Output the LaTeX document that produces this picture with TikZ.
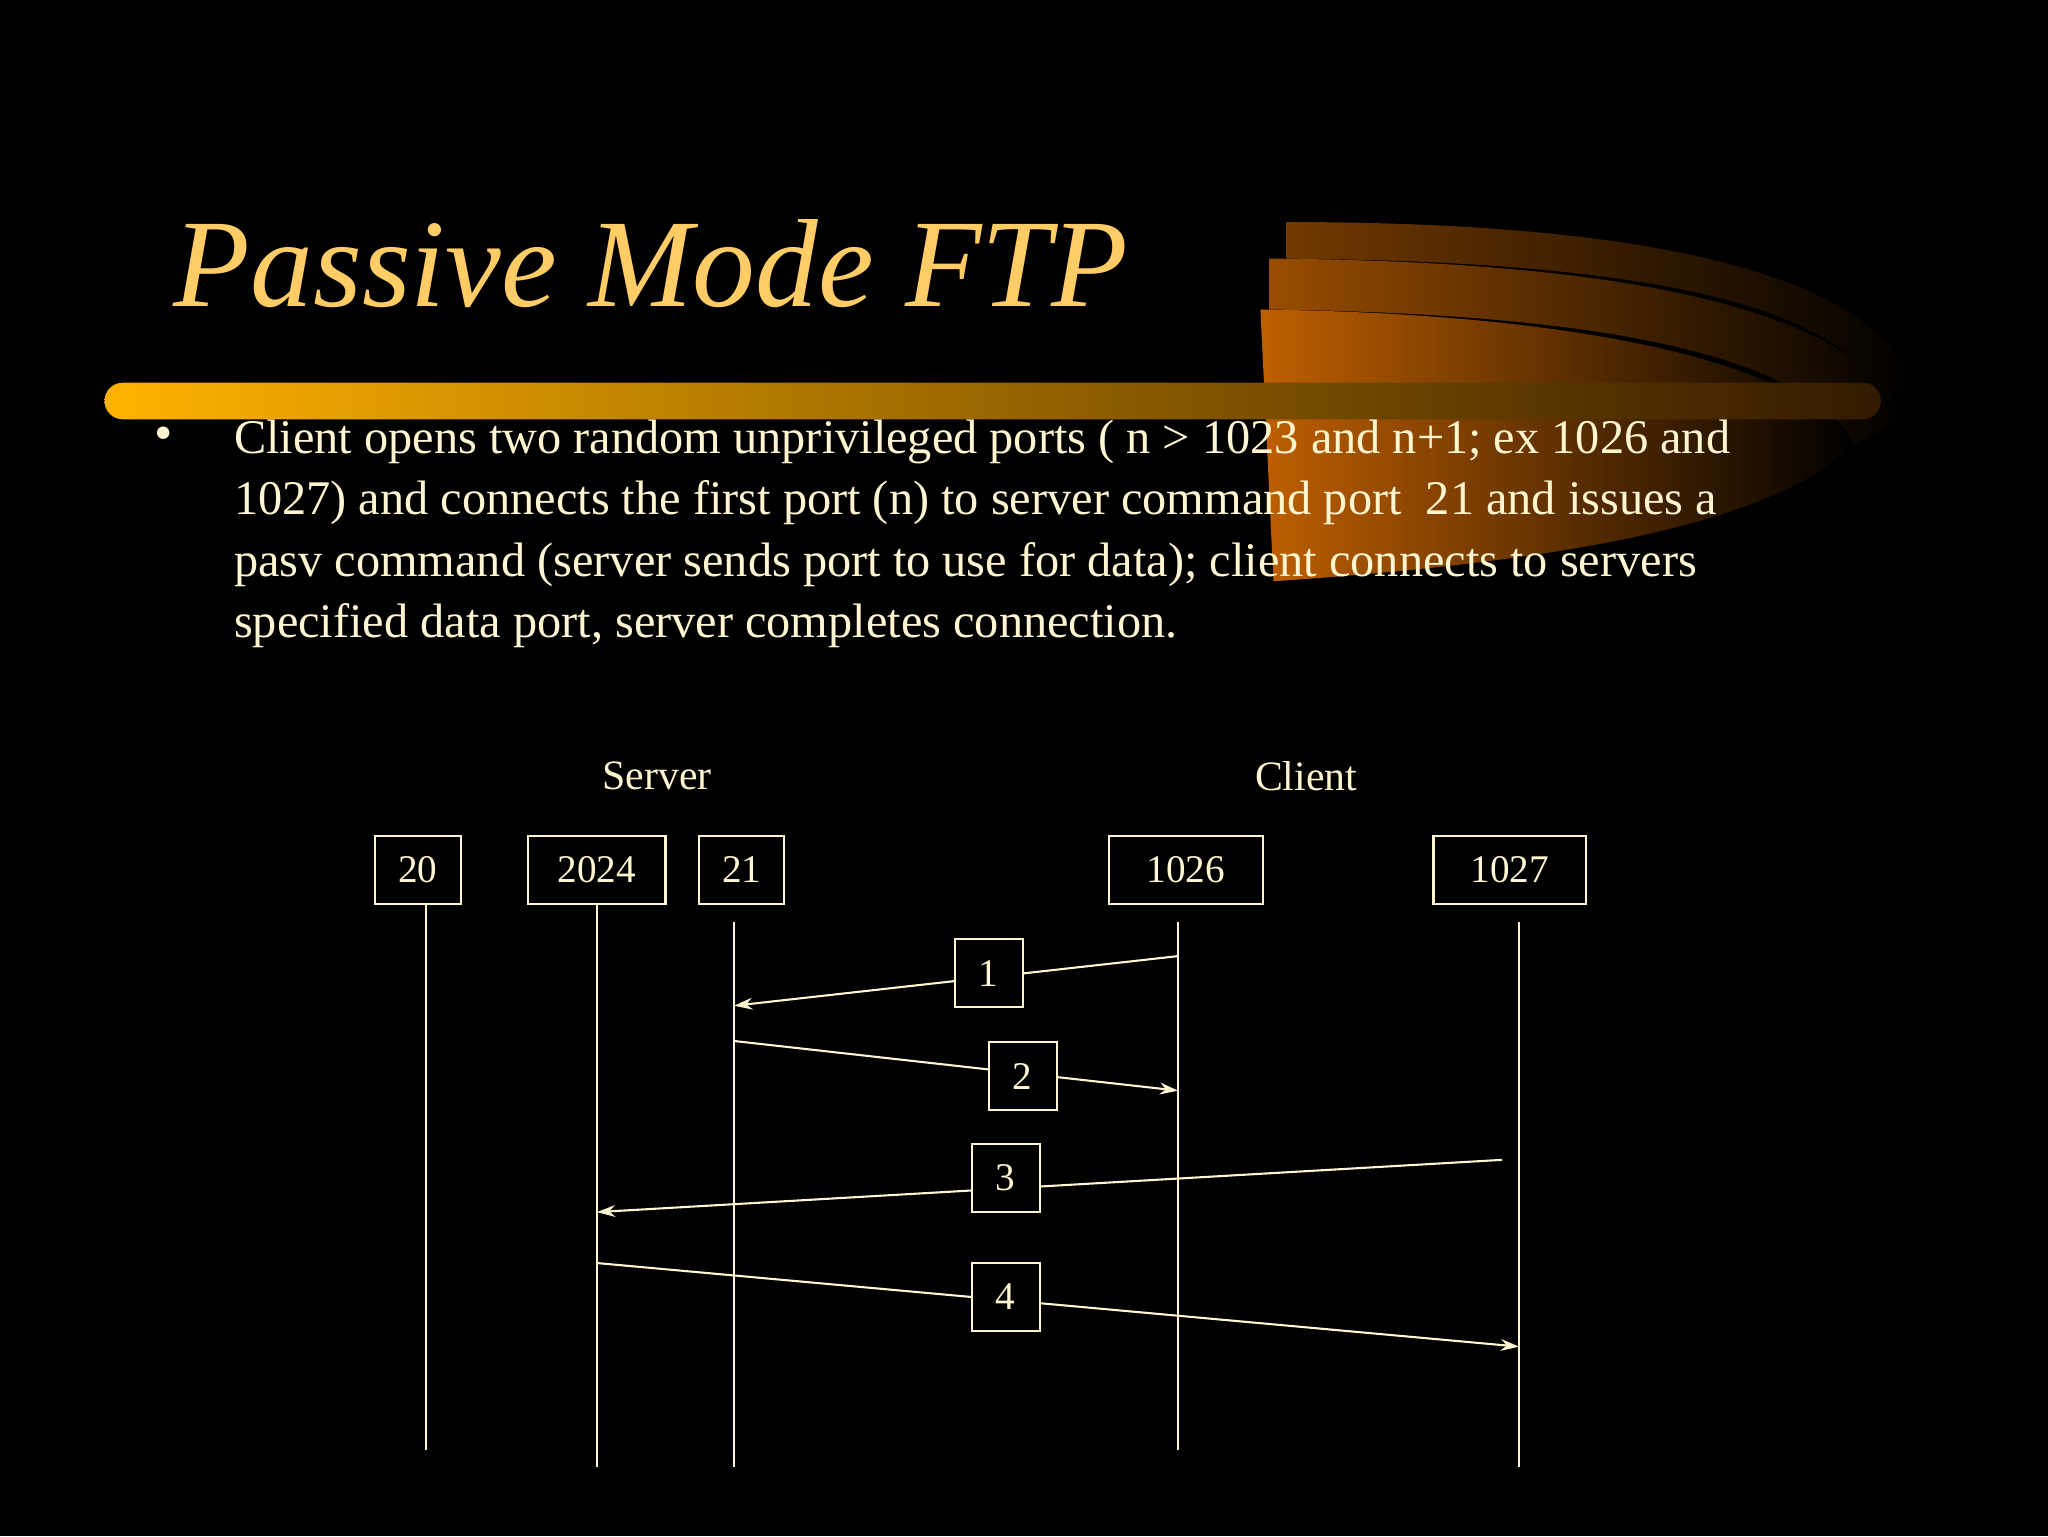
\documentclass[tikz,border=0pt]{standalone}
\usepackage{fontspec}
\setmainfont{Liberation Serif}
\usetikzlibrary{arrows.meta}
\definecolor{cream}{HTML}{FFF5D0}
\definecolor{ttl}{HTML}{FFCC66}
\tikzset{
  port/.style={draw=cream,line width=1.6pt,fill=black,text=cream,minimum height=52pt,font=\fontsize{30}{30}\selectfont,inner xsep=6pt},
  num/.style={draw=cream,line width=1.6pt,fill=black,text=cream,minimum width=52pt,minimum height=52pt,font=\fontsize{30}{30}\selectfont},
  life/.style={cream,line width=1.6pt},
  msg/.style={cream,line width=1.6pt,-{Stealth[length=14pt,width=9pt]}},
  lbl/.style={text=cream,font=\fontsize{32}{32}\selectfont}
}
\begin{document}
\begin{tikzpicture}[x=1pt,y=-1pt]
\fill[black] (0,0) rectangle (1568,1176);
\useasboundingbox (0,0) rectangle (1568,1176);
% swoosh
\shade[left color=orange!45!black,right color=black] (985,170) .. controls (1300,170) and (1440,220) .. (1470,300) -- (1440,300) .. controls (1400,230) and (1250,200) .. (985,198) -- cycle;
\shade[left color=orange!60!black,right color=black] (972,198) .. controls (1260,200) and (1420,240) .. (1460,320) -- (1420,340) .. controls (1380,270) and (1220,240) .. (972,237) -- cycle;
\shade[left color=orange!75!black,right color=black] (965,237) .. controls (1220,240) and (1380,280) .. (1420,340) .. controls (1360,400) and (1200,430) .. (975,445) -- cycle;
% bar
\shade[left color=orange!60!yellow,right color=black!80!orange,rounded corners=14pt] (80,293) rectangle (1440,321);
% title
\node[anchor=base west,text=ttl,font=\itshape\fontsize{96}{96}\selectfont,inner sep=0] (title) at (133,235) {Passive Mode FTP};
% bullet
\node[anchor=base west,text=cream,font=\fontsize{40}{40}\selectfont,inner sep=0] (bul) at (118,345) {•};
\node[anchor=base west,text=cream,font=\fontsize{37}{47}\selectfont,inner sep=0,align=left] (body) at (179,488) {Client opens two random unprivileged ports ( n > 1023 and n+1; ex 1026 and\\1027) and connects the first port (n) to server command port~ 21 and issues a\\pasv command (server sends port to use for data); client connects to servers\\specified data port, server completes connection.};
% headers
\node[lbl] (srv) at (503,594) {Server};
\node[lbl] (cli) at (1000,594) {Client};
% ports
\node[port,minimum width=66pt] (p20) at (320,666) {20};
\node[port,minimum width=105pt] (p2024) at (457,666) {2024};
\node[port,minimum width=65pt] (p21) at (568,666) {21};
\node[port,minimum width=118pt] (p1026) at (908,666) {1026};
\node[port,minimum width=117pt] (p1027) at (1156,666) {1027};
% lifelines
\coordinate (a20) at (326,693); \coordinate (b20) at (326,1110);
\coordinate (a24) at (457,693); \coordinate (b24) at (457,1123);
\coordinate (a21) at (562,706); \coordinate (b21) at (562,1123);
\coordinate (a26) at (902,706); \coordinate (b26) at (902,1110);
\coordinate (a27) at (1163,706); \coordinate (b27) at (1163,1123);
\draw[life] (a20) -- (b20);
\draw[life] (a24) -- (b24);
\draw[life] (a21) -- (b21);
\draw[life] (a26) -- (b26);
\draw[life] (a27) -- (b27);
% messages
\coordinate (m1s) at (902,732); \coordinate (m1e) at (562,770);
\coordinate (m2s) at (562,797); \coordinate (m2e) at (902,835);
\coordinate (m3s) at (1150,888); \coordinate (m3e) at (457,928);
\coordinate (m4s) at (457,967); \coordinate (m4e) at (1163,1031);
\draw[msg] (m1s) -- (m1e);
\draw[msg] (m2s) -- (m2e);
\draw[msg] (m3s) -- (m3e);
\draw[msg] (m4s) -- (m4e);
\node[num] (n1) at (757,745) {1};
\node[num] (n2) at (783,824) {2};
\node[num] (n3) at (770,902) {3};
\node[num] (n4) at (770,993) {4};
\end{tikzpicture}
\end{document}
